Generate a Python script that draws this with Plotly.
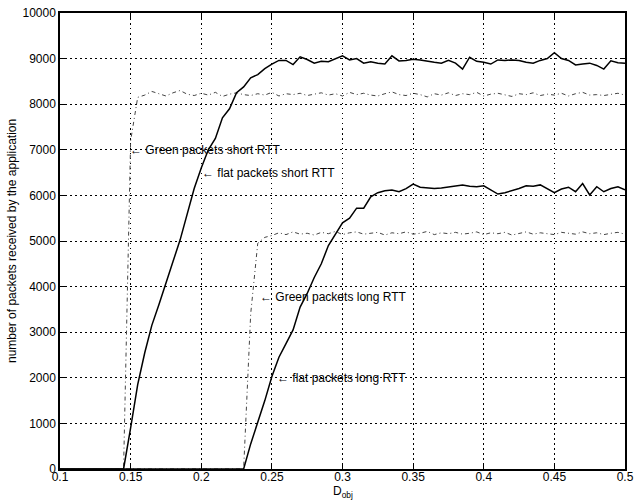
import plotly.graph_objects as go

# ---- data ----
d_obj = [round(0.1 + 0.005 * i, 3) for i in range(81)]

flat_short = [0]*9 + [
    0, 900, 1850, 2550, 3150, 3600, 4050, 4550, 5020, 5600,
    6150, 6600, 7000, 7250, 7700, 7900, 8250, 8380, 8580, 8650,
    8780, 8880, 8960, 8960, 8870, 9040, 8980, 8900, 8940, 8930,
    9000, 9060, 8970, 9000, 8900, 8930, 8900, 8880, 9060, 8950,
    8960, 8985, 8970, 8940, 8920, 8900, 8960, 8900, 8770, 9030,
    8940, 8920, 8880, 8970, 8960, 8970, 8960, 8920, 8900, 8960,
    9000, 9130, 9000, 8960, 8860, 8880, 8900, 8850, 8770, 8950,
    8910, 8900, 8950]

green_short = [0]*9 + [
    0, 7200, 8150, 8200, 8280, 8230, 8180, 8250, 8300, 8220,
    8190, 8240, 8200, 8260, 8170, 8220, 8250, 8210, 8190, 8230,
    8200, 8260, 8180, 8230, 8210, 8240, 8190, 8220, 8250, 8200,
    8230, 8180, 8260, 8210, 8240, 8200, 8180, 8230, 8270, 8210,
    8190, 8240, 8210, 8160, 8230, 8200, 8250, 8190, 8230, 8210,
    8260, 8180, 8220, 8240, 8200, 8170, 8230, 8210, 8250, 8190,
    8220, 8200, 8240, 8180, 8230, 8260, 8200, 8210, 8190, 8220,
    8240, 8200, 8210]

flat_long = [0]*26 + [
    0, 550, 1000, 1500, 2030, 2450, 2750, 3050, 3550, 3850,
    4200, 4500, 4900, 5150, 5400, 5500, 5720, 5720, 5970, 6060,
    6100, 6120, 6080, 6150, 6250, 6180, 6160, 6150, 6160, 6180,
    6200, 6230, 6200, 6190, 6210, 6120, 6030, 6060, 6100, 6150,
    6210, 6200, 6230, 6150, 6060, 6140, 6180, 6080, 6260, 6010,
    6190, 6080, 6150, 6190, 6120]

green_long = [0]*26 + [
    0, 3400, 4950, 5080, 5120, 5180, 5140, 5200, 5150, 5170,
    5130, 5190, 5160, 5210, 5140, 5180, 5200, 5150, 5170, 5190,
    5130, 5180, 5160, 5200, 5150, 5170, 5210, 5140, 5180, 5160,
    5190, 5150, 5170, 5200, 5140, 5180, 5160, 5190, 5130, 5170,
    5200, 5150, 5180, 5160, 5140, 5190, 5170, 5150, 5200, 5160,
    5180, 5140, 5170, 5190, 5150]

x_ticks = [0.1, 0.15, 0.2, 0.25, 0.3, 0.35, 0.4, 0.45, 0.5]
x_tick_labels = ["0.1", "0.15", "0.2", "0.25", "0.3", "0.35", "0.4", "0.45", "0.5"]
y_ticks = [0, 1000, 2000, 3000, 4000, 5000, 6000, 7000, 8000, 9000, 10000]
y_tick_labels = [str(v) for v in y_ticks]

labels = ["← Green packets short RTT", "← flat packets short RTT",
          "← Green packets long RTT", "← flat packets long RTT"]
label_x = [0.148, 0.199, 0.240, 0.252]
label_y = [7000, 6500, 3770, 2000]

x_title = "D<sub>obj</sub>"
y_title = "number of packets received by the application"

FONT = "Liberation Sans, Arial, Helvetica, sans-serif"

fig = go.Figure()
solid = dict(color="black", width=1.5)
dashed = dict(color="#444444", width=1, dash="4px,3px,1px,3px")
fig.add_trace(go.Scatter(x=d_obj, y=green_short, mode="lines", line=dashed, name="Green short"))
fig.add_trace(go.Scatter(x=d_obj, y=flat_short, mode="lines", line=solid, name="flat short"))
fig.add_trace(go.Scatter(x=d_obj, y=green_long, mode="lines", line=dashed, name="Green long"))
fig.add_trace(go.Scatter(x=d_obj, y=flat_long, mode="lines", line=solid, name="flat long"))

for t, xv, yv in zip(labels, label_x, label_y):
    fig.add_annotation(x=xv, y=yv, xref="x", yref="y", text=t, showarrow=False,
                       xanchor="left", yanchor="middle",
                       font=dict(family=FONT, size=12, color="black"))

# axis titles placed as annotations (paper coords)
fig.add_annotation(x=0.5009, y=-0.028, xref="paper", yref="paper", text=x_title,
                   showarrow=False, xanchor="center", yanchor="top",
                   font=dict(family=FONT, size=12, color="black"))
fig.add_annotation(x=-0.085, y=0.5, xref="paper", yref="paper", text=y_title,
                   showarrow=False, xanchor="center", yanchor="middle", textangle=-90,
                   font=dict(family=FONT, size=12, color="black"))

axis_common = dict(
    showline=True, linecolor="black", linewidth=1.5, mirror="allticks",
    ticks="inside", ticklen=5, tickcolor="black", tickwidth=1,
    showgrid=True, gridcolor="black", gridwidth=1.2, griddash="1.5px,3.5px",
    zeroline=False, automargin=False,
    tickfont=dict(family=FONT, size=12, color="black"),
)

fig.update_xaxes(range=[0.1, 0.5], tickvals=x_ticks, ticktext=x_tick_labels,
                 ticklabelstandoff=-4, **axis_common)
fig.update_yaxes(range=[0, 10000], tickvals=y_ticks, ticktext=y_tick_labels, **axis_common)

fig.update_layout(
    width=636, height=504,
    margin=dict(l=60, r=11, t=13, b=35),
    paper_bgcolor="white", plot_bgcolor="white",
    showlegend=False,
)

fig.write_html("out.html", config={"displayModeBar": False},
               post_script="document.body.style.margin='0';document.body.style.overflow='hidden';")
